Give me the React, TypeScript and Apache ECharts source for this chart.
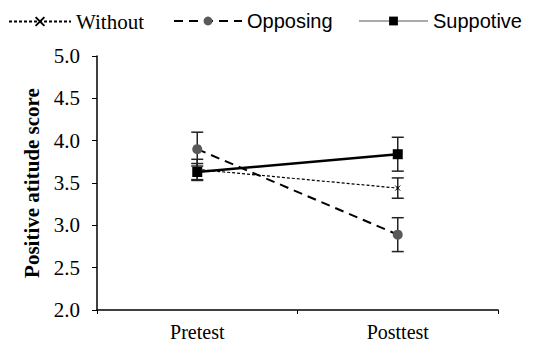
import React, { useEffect, useRef } from "react";
import * as echarts from "echarts";

const categories = ["Pretest", "Posttest"];
const seriesNames = ["Without", "Opposing", "Suppotive"];
const withoutValues = [3.66, 3.44];
const opposingValues = [3.9, 2.89];
const suppotiveValues = [3.63, 3.84];
const withoutErr = [0.12, 0.12];
const opposingErr = [0.2, 0.2];
const suppotiveErr = [0.1, 0.2];
const yTicks = { min: 2, max: 5, interval: 0.5 };

function errData(vals: number[], errs: number[]) {
  return vals.map((v, i) => [i, v - errs[i], v + errs[i]]);
}

export default function App() {
  const ref = useRef<HTMLDivElement>(null);
  useEffect(() => {
    if (!ref.current) return;
    const chart = echarts.init(ref.current, undefined, { renderer: "svg" });
    const serif = "'Liberation Serif', 'Times New Roman', serif";
    const sans = "'Liberation Sans', Arial, sans-serif";
    const errSeries = (name: string, vals: number[], errs: number[]) => ({
      type: "custom",
      name: name + "_err",
      z: 1,
      data: errData(vals, errs),
      renderItem: (params: any, api: any) => {
        const x = api.value(0);
        const lo = api.coord([x, api.value(1)]);
        const hi = api.coord([x, api.value(2)]);
        const w = 6;
        const style = { stroke: "#222", lineWidth: 1.5 };
        return {
          type: "group",
          children: [
            { type: "line", shape: { x1: lo[0], y1: lo[1], x2: hi[0], y2: hi[1] }, style },
            { type: "line", shape: { x1: lo[0] - w, y1: lo[1], x2: lo[0] + w, y2: lo[1] }, style },
            { type: "line", shape: { x1: hi[0] - w, y1: hi[1], x2: hi[0] + w, y2: hi[1] }, style },
          ],
        };
      },
    });
    const legendBase = {
      top: 6,
      itemHeight: 11,
    };
    chart.setOption({
      animation: false,
      textStyle: { fontFamily: serif },
      legend: [
        {
          ...legendBase,
          left: 3,
          itemWidth: 62,
          textStyle: { fontFamily: serif, fontSize: 21, color: "#000" },
          data: [{ name: seriesNames[0] }],
        },
        {
          ...legendBase,
          left: 168,
          itemWidth: 68,
          textStyle: { fontFamily: sans, fontSize: 20, color: "#000" },
          data: [{ name: seriesNames[1] }],
        },
        {
          ...legendBase,
          left: 353,
          itemWidth: 69,
          textStyle: { fontFamily: sans, fontSize: 20, color: "#000" },
          data: [{ name: seriesNames[2], lineStyle: { color: "#aaa", width: 2 } }],
        },
      ],
      grid: { left: 97, right: 49, top: 56, bottom: 31, containLabel: false },
      xAxis: {
        type: "category",
        data: categories,
        boundaryGap: true,
        axisLine: { lineStyle: { color: "#000", width: 1.5 } },
        axisTick: { show: true, length: 4, lineStyle: { color: "#000" } },
        axisLabel: { fontFamily: serif, fontSize: 20, color: "#000", margin: 12 },
      },
      yAxis: {
        type: "value",
        min: yTicks.min,
        max: yTicks.max,
        interval: yTicks.interval,
        name: "Positive atitude score",
        nameLocation: "middle",
        nameGap: 53,
        nameTextStyle: { fontFamily: serif, fontSize: 21, fontWeight: "bold", color: "#000" },
        splitLine: { show: false },
        axisLine: { show: true, lineStyle: { color: "#000", width: 1.5 } },
        axisTick: { show: true, length: 5, lineStyle: { color: "#000" } },
        axisLabel: {
          fontFamily: serif,
          fontSize: 21,
          color: "#000",
          margin: 17,
          formatter: (v: number) => v.toFixed(1),
        },
      },
      series: [
        errSeries("Without", withoutValues, withoutErr),
        errSeries("Opposing", opposingValues, opposingErr),
        errSeries("Suppotive", suppotiveValues, suppotiveErr),
        {
          type: "line",
          name: seriesNames[0],
          data: withoutValues,
          z: 3,
          symbol: "path://M0,0L10,10M10,0L0,10",
          symbolSize: 5,
          itemStyle: { color: "#000", borderColor: "#000", borderWidth: 1 },
          lineStyle: { color: "#000", width: 1.2, type: [3, 2] },
        },
        {
          type: "line",
          name: seriesNames[1],
          data: opposingValues,
          z: 3,
          symbol: "circle",
          symbolSize: 10,
          itemStyle: { color: "#595959", borderWidth: 0 },
          lineStyle: { color: "#000", width: 2, type: [9, 6] },
        },
        {
          type: "line",
          name: seriesNames[2],
          data: suppotiveValues,
          z: 4,
          symbol: "rect",
          symbolSize: 10,
          itemStyle: { color: "#000", borderWidth: 0 },
          lineStyle: { color: "#000", width: 2.5 },
        },
      ],
    });
    return () => chart.dispose();
  }, []);
  return <div ref={ref} style={{ width: 547, height: 342, position: "absolute", left: 0, top: 0 }} />;
}
